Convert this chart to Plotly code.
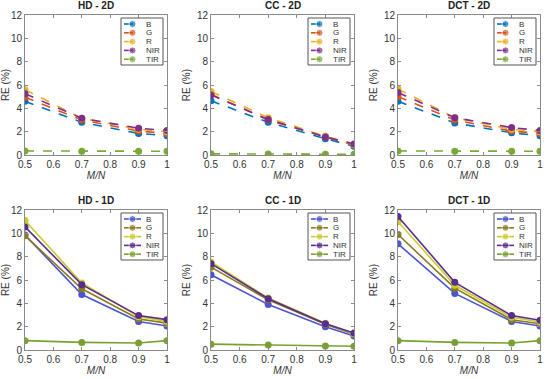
import plotly.graph_objects as go

mn = [0.5, 0.7, 0.9, 1.0]
bands = ["B", "G", "R", "NIR", "TIR"]
titles = ["HD - 2D", "CC - 2D", "DCT - 2D", "HD - 1D", "CC - 1D", "DCT - 1D"]

hd_2d = {
    "B": [4.6, 2.8, 1.85, 1.65],
    "G": [4.95, 3.0, 2.05, 1.85],
    "R": [5.6, 3.15, 2.2, 2.0],
    "NIR": [5.25, 3.15, 2.3, 2.1],
    "TIR": [0.35, 0.33, 0.32, 0.32],
}
cc_2d = {
    "B": [4.65, 2.8, 1.4, 0.75],
    "G": [5.2, 3.0, 1.55, 0.85],
    "R": [5.45, 3.2, 1.6, 0.9],
    "NIR": [5.15, 3.05, 1.55, 0.95],
    "TIR": [0.1, 0.08, 0.07, 0.06],
}
dct_2d = {
    "B": [4.6, 2.75, 1.9, 1.65],
    "G": [5.0, 3.0, 2.05, 1.85],
    "R": [5.65, 3.2, 2.2, 2.0],
    "NIR": [5.35, 3.2, 2.35, 2.1],
    "TIR": [0.35, 0.33, 0.32, 0.32],
}
hd_1d = {
    "B": [9.85, 4.75, 2.45, 2.05],
    "G": [9.8, 5.25, 2.65, 2.3],
    "R": [11.1, 5.75, 2.85, 2.45],
    "NIR": [10.55, 5.6, 2.95, 2.6],
    "TIR": [0.8, 0.65, 0.6, 0.8],
}
cc_1d = {
    "B": [6.45, 3.9, 2.0, 1.2],
    "G": [7.1, 4.3, 2.2, 1.35],
    "R": [7.55, 4.45, 2.3, 1.4],
    "NIR": [7.4, 4.4, 2.25, 1.45],
    "TIR": [0.5, 0.42, 0.35, 0.32],
}
dct_1d = {
    "B": [9.1, 4.85, 2.45, 2.05],
    "G": [9.9, 5.3, 2.6, 2.25],
    "R": [11.0, 5.55, 2.8, 2.4],
    "NIR": [11.45, 5.8, 2.95, 2.55],
    "TIR": [0.8, 0.65, 0.6, 0.8],
}
panels = [hd_2d, cc_2d, dct_2d, hd_1d, cc_1d, dct_1d]

colors_2d = {"B": "#0072BD", "G": "#D95319", "R": "#EDB120", "NIR": "#7E2F8E", "TIR": "#77AC30"}
colors_1d = {"B": "#4A55D0", "G": "#8C7A1E", "R": "#C8CC2A", "NIR": "#5A2C90", "TIR": "#7BA032"}

W, H = 550, 379
xdom_px = [(25, 167), (211, 354), (398, 540)]
ydom_px = [(15, 155), (210, 350)]
LEG_W, LEG_H = 42, 47

fig = go.Figure()
layout = {}
font_fam = "Liberation Sans, Arial, sans-serif"
axcol = "#8a8a8a"
txtcol = "#333333"
shapes = []

for i, data in enumerate(panels):
    row, col = divmod(i, 3)
    n = "" if i == 0 else str(i + 1)
    ln = str(i + 7)
    x0, x1 = xdom_px[col]
    y0, y1 = ydom_px[row]
    xd = [x0 / W, x1 / W]
    yd = [1 - y1 / H, 1 - y0 / H]
    cols = colors_2d if row == 0 else colors_1d
    dash = "dash" if row == 0 else "solid"
    for b in bands:
        fig.add_trace(go.Scatter(
            x=mn, y=data[b], name=b, mode="lines+markers",
            line=dict(color=cols[b], width=1.6, dash=dash),
            marker=dict(color=cols[b], size=7),
            xaxis="x" + n, yaxis="y" + n, showlegend=False,
        ))
    common = dict(
        ticks="inside", ticklen=3, tickcolor=axcol, showline=True, linecolor=axcol, linewidth=1,
        mirror="ticks", showgrid=False, zeroline=False, automargin=False,
        tickfont=dict(size=10, color=txtcol, family=font_fam),
    )
    layout["xaxis" + n] = dict(
        domain=xd, anchor="y" + n, range=[0.5, 1.0],
        tickvals=[0.5, 0.6, 0.7, 0.8, 0.9, 1.0], ticktext=["0.5", "0.6", "0.7", "0.8", "0.9", "1"],
        title=dict(text="<i>M/N</i>", font=dict(size=10, color=txtcol, family=font_fam), standoff=2),
        **common,
    )
    layout["yaxis" + n] = dict(
        domain=yd, anchor="x" + n, range=[0, 12],
        tickvals=[0, 2, 4, 6, 8, 10, 12],
        title=dict(text="RE (%)", font=dict(size=10, color=txtcol, family=font_fam), standoff=4),
        **common,
    )
    fig.add_annotation(
        x=(x0 + x1) / 2 / W, y=1 - (y0 - 2) / H, xref="paper", yref="paper",
        text=f"<b>{titles[i]}</b>", showarrow=False, yanchor="bottom", xanchor="center",
        font=dict(size=10, color="#222222", family=font_fam),
    )

    # legend box (custom, compact like MATLAB)
    lx1 = x1 - 4
    lx0 = lx1 - LEG_W
    ly0 = y0 + 3
    ly1 = ly0 + LEG_H
    layout["xaxis" + ln] = dict(domain=[lx0 / W, lx1 / W], anchor="y" + ln, range=[0, LEG_W],
                                visible=False, fixedrange=True)
    layout["yaxis" + ln] = dict(domain=[1 - ly1 / H, 1 - ly0 / H], anchor="x" + ln,
                                range=[LEG_H, 0], visible=False, fixedrange=True)
    shapes.append(dict(type="rect", xref="x" + ln + " domain", yref="y" + ln + " domain",
                       x0=0, x1=1, y0=0, y1=1,
                       line=dict(color="#555555", width=1), fillcolor="rgba(0,0,0,0)", layer="above"))
    for k, b in enumerate(bands):
        yy = 6 + k * 8.8
        fig.add_trace(go.Scatter(
            x=[3, 11.5, 20], y=[yy, yy, yy], mode="lines+markers",
            line=dict(color=cols[b], width=1.6, dash="dash" if row == 0 else "solid"),
            marker=dict(color=cols[b], size=[0, 7, 0]),
            xaxis="x" + ln, yaxis="y" + ln, showlegend=False, hoverinfo="skip",
        ))
        fig.add_annotation(x=22.5, y=yy, xref="x" + ln, yref="y" + ln, text=b, showarrow=False,
                           xanchor="left", yanchor="middle",
                           font=dict(size=8, color=txtcol, family=font_fam))

fig.update_layout(
    width=W, height=H, margin=dict(l=0, r=0, t=0, b=0, autoexpand=False),
    paper_bgcolor="white", plot_bgcolor="white", showlegend=False,
    shapes=shapes,
    **layout,
)
fig.write_html("out.html", config={"displayModeBar": False},
               post_script="document.body.style.margin='0px';")
